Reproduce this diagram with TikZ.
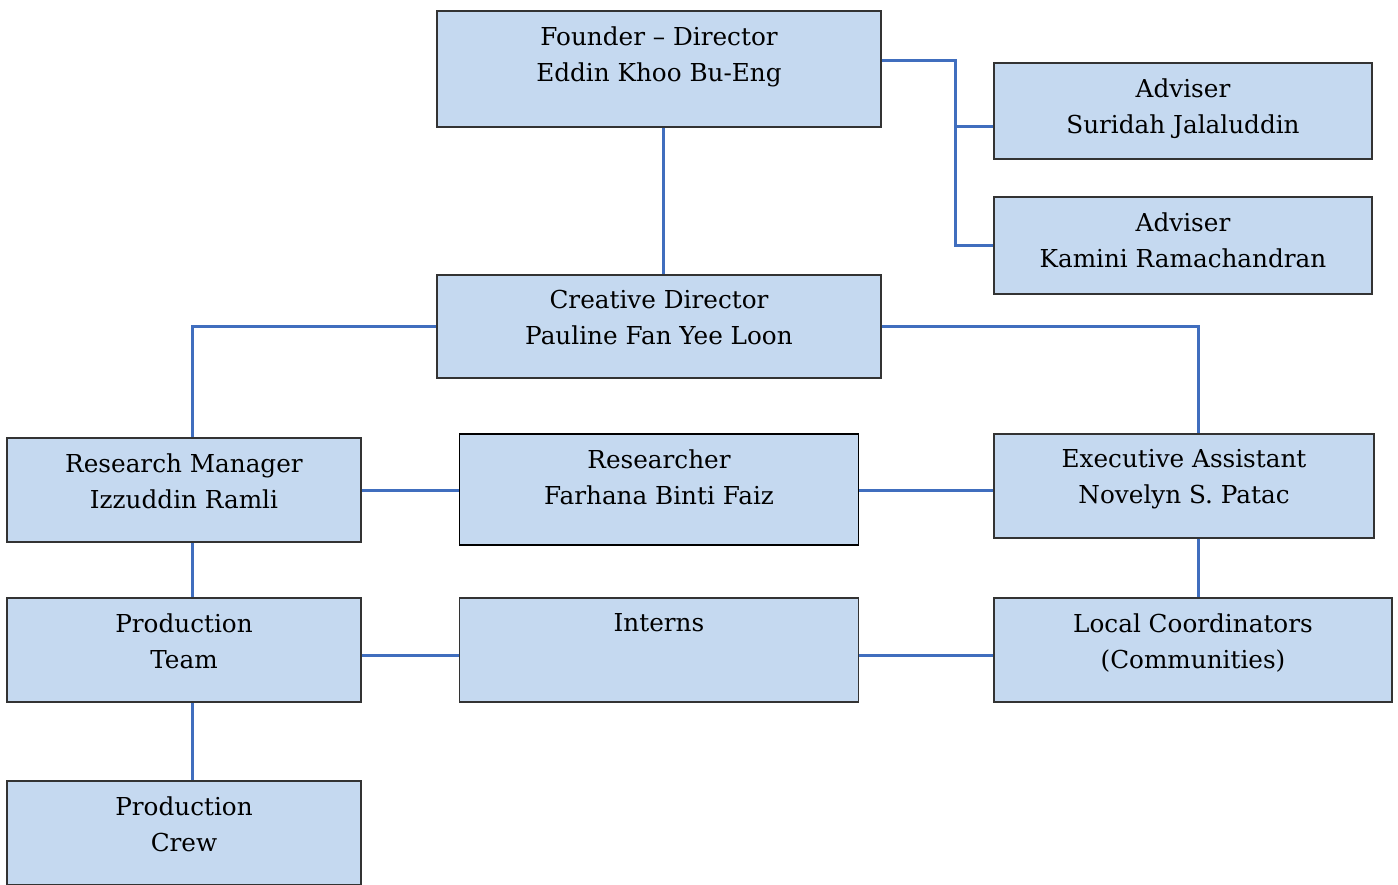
\documentclass[tikz,border=0pt]{standalone}
\usepackage{fontspec}
\setmainfont{DejaVu Serif}
\usetikzlibrary{positioning}
\definecolor{unitfill}{RGB}{197,217,240}
\definecolor{linkblue}{RGB}{64,110,190}

\begin{document}
\begin{tikzpicture}[node distance=1cm,on grid,
	unit/.style={draw=black!80,line width=1.4pt,fill=unitfill,minimum height=104pt,inner sep=0pt},
	title/.style={anchor=north,inner sep=0pt,yshift=-16pt,align=center,text=black,
		font=\fontsize{24.7}{36}\selectfont},
	link/.style={draw=linkblue,line width=3pt}]
	\useasboundingbox (0,0) rectangle (1398pt,-885pt);
	\node[unit,minimum width=444pt,minimum height=116pt,
		label={[title]north:Founder -- Director\\Eddin Khoo Bu-Eng}] (founder) at (659pt,-69pt) {};
	\node[unit,minimum width=378pt,minimum height=96pt,
		label={[title]north:Adviser\\Suridah Jalaluddin}] (adv1) [below right=42pt and 524pt of founder] {};
	\node[unit,minimum width=378pt,minimum height=97pt,
		label={[title]north:Adviser\\Kamini Ramachandran}] (adv2) [below=134.5pt of adv1] {};
	\node[unit,minimum width=444pt,minimum height=103pt,
		label={[title]north:Creative Director\\Pauline Fan Yee Loon}] (creative) [below=257.5pt of founder] {};
	\node[unit,minimum width=354pt,
		label={[title]north:Research Manager\\Izzuddin Ramli}] (rm) [below left=163.5pt and 475pt of creative] {};
	\node[unit,minimum width=399pt,minimum height=111pt,draw=black,
		label={[title]north:Researcher\\Farhana Binti Faiz}] (researcher) [below=163pt of creative] {};
	\node[unit,minimum width=380pt,
		label={[title]north:Executive Assistant\\Novelyn S. Patac}] (exec) [below right=159.5pt and 525pt of creative] {};
	\node[unit,minimum width=354pt,
		label={[title]north:Production\\Team}] (team) [below=160pt of rm] {};
	\node[unit,minimum width=399pt,
		label={[title]north:Interns}] (interns) [below=160.5pt of researcher] {};
	\node[unit,minimum width=398pt,
		label={[title]north:Local Coordinators\\(Communities)}] (local) [below right=164pt and 9pt of exec] {};
	\node[unit,minimum width=354pt,
		label={[title]north:Production\\Crew}] (crew) [below=183pt of team] {};
	% founder and advisers
	\draw[link] ([xshift=4pt]founder.south) -- ([xshift=4pt]founder.south |- creative.north);
	\draw[link] ([yshift=8pt]founder.east) -- ++(74pt,0) |- (adv2.west);
	\draw[link] ([yshift=-16pt]adv1.west) -- ++(-39pt,0);
	% creative director branches
	\draw[link] (creative.west) -| ([xshift=8pt]rm.north);
	\draw[link] (creative.east) -| ([xshift=14pt]exec.north);
	% rows
	\draw[link] (rm.east) -- (rm.east -| researcher.west);
	\draw[link] ([yshift=-1pt]researcher.east) -- ([yshift=-1pt]researcher.east -| exec.west);
	\draw[link] ([yshift=-5pt]team.east) -- ([yshift=-5pt]interns.west);
	\draw[link] ([yshift=-5pt]interns.east) -- ([yshift=-5pt]local.west);
	% columns
	\draw[link] ([xshift=8pt]rm.south) -- ([xshift=8pt]team.north);
	\draw[link] ([xshift=8pt]team.south) -- ([xshift=8pt]crew.north);
	\draw[link] ([xshift=14pt]exec.south) -- ([xshift=14pt]exec.south |- local.north);
\end{tikzpicture}
\end{document}
